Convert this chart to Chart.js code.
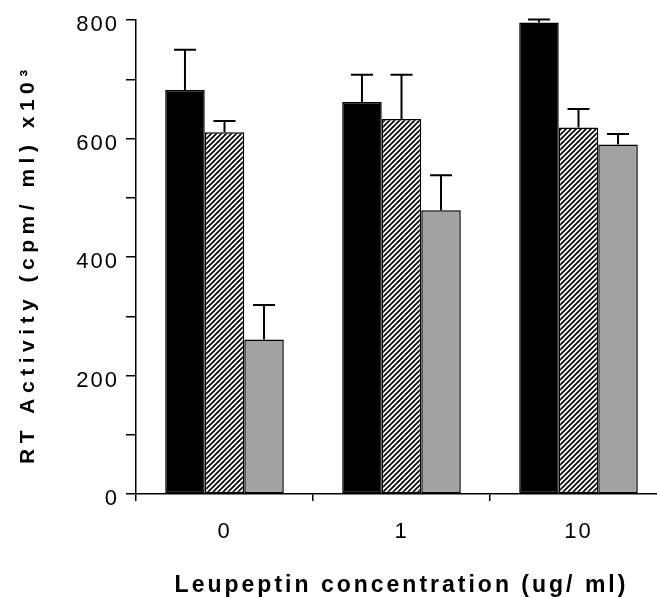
<!DOCTYPE html>
<html>
<head>
<meta charset="utf-8">
<script src="https://cdn.jsdelivr.net/npm/chart.js@4.4.1/dist/chart.umd.min.js"></script>
<style>
  html, body { margin: 0; padding: 0; background: #fff; overflow: hidden; }
  #wrap { width: 657px; height: 597px; overflow: hidden; position: relative; }
  canvas { display: block; }
</style>
</head>
<body>
<div id="wrap"><canvas id="c" width="667" height="597" style="width:667px;height:597px"></canvas></div>
<script>
// ---- data ----
const categories = ['0', '1', '10'];
const blackValues = [682, 662, 796];
const blackErrors = [68, 46, 5];
const hatchValues = [611, 633, 619];
const hatchErrors = [19, 75, 31];
const grayValues = [261, 479, 590];
const grayErrors = [58, 59, 18];
const yTickLabels = [0, 200, 400, 600, 800];
const xTitle = 'Leupeptin concentration (ug/ ml)';
const yTitle = 'RT Activity (cpm/ ml) x10\u00B3';

// ---- hatch pattern ----
function makeHatch() {
  const s = 5;
  const t = document.createElement('canvas');
  t.width = s; t.height = s;
  const g = t.getContext('2d');
  g.fillStyle = '#fff';
  g.fillRect(0, 0, s, s);
  g.strokeStyle = '#000';
  g.lineWidth = 1.7;
  g.beginPath();
  g.moveTo(0, s); g.lineTo(s, 0);
  g.moveTo(-1, 1); g.lineTo(1, -1);
  g.moveTo(s - 1, s + 1); g.lineTo(s + 1, s - 1);
  g.stroke();
  return g.createPattern(t, 'repeat');
}

const errorSets = [blackErrors, hatchErrors, grayErrors];

const errorBars = {
  id: 'errorBars',
  afterDatasetsDraw(chart) {
    const ctx = chart.ctx;
    const y = chart.scales.y;
    ctx.save();
    ctx.strokeStyle = '#000';
    ctx.lineWidth = 2;
    chart.data.datasets.forEach((ds, i) => {
      const meta = chart.getDatasetMeta(i);
      meta.data.forEach((bar, j) => {
        const top = y.getPixelForValue(ds.data[j] + errorSets[i][j]);
        ctx.beginPath();
        ctx.moveTo(bar.x, bar.y);
        ctx.lineTo(bar.x, top);
        ctx.moveTo(bar.x - 11, top);
        ctx.lineTo(bar.x + 11, top);
        ctx.stroke();
      });
    });
    ctx.restore();
  }
};

function patchTitle(scale, sp, dx, dy) {
  if (scale._titlePatched) return;
  const orig = scale.drawTitle;
  scale.drawTitle = function () {
    const g = this.ctx;
    g.save();
    g.letterSpacing = sp;
    g.translate(dx, dy);
    orig.call(this);
    g.restore();
    g.letterSpacing = '2px';
  };
  scale._titlePatched = true;
}

const spacing = {
  id: 'spacing',
  beforeInit(c) { c.ctx.letterSpacing = '2px'; },
  beforeLayout(c) { c.ctx.letterSpacing = '2px'; },
  beforeDraw(c) {
    c.ctx.letterSpacing = '2px';
    patchTitle(c.scales.y, '5.5px', 0, 7);
    patchTitle(c.scales.x, '3px', 0, 0);
  }
};

const ctx = document.getElementById('c').getContext('2d');
const FONT = "'Liberation Sans', Arial, Helvetica, sans-serif";

new Chart(ctx, {
  type: 'bar',
  data: {
    labels: categories,
    datasets: [
      { data: blackValues, backgroundColor: '#000' },
      { data: hatchValues, backgroundColor: makeHatch() },
      { data: grayValues, backgroundColor: '#a3a3a3' }
    ].map(d => Object.assign(d, {
      borderColor: '#000', borderWidth: 1.5, borderSkipped: false,
      categoryPercentage: 0.67, barPercentage: 1.0
    }))
  },
  options: {
    responsive: false,
    animation: false,
    devicePixelRatio: 1,
    layout: { padding: { top: 18, left: 0, right: 0, bottom: 0 } },
    plugins: { legend: { display: false }, tooltip: { enabled: false } },
    scales: {
      x: {
        afterFit: s => { s.height = 103; },
        grid: { drawOnChartArea: false, offset: true, tickLength: 7, color: '#000', lineWidth: 1.5 },
        border: { color: '#000', width: 1.5 },
        ticks: { color: '#000', padding: 18, font: { family: FONT, size: 22 } },
        title: {
          display: true, text: xTitle, color: '#000',
          font: { family: FONT, size: 23, weight: 'bold', lineHeight: 1.0 },
          padding: { top: 0, bottom: 0 }
        }
      },
      y: {
        min: 0, max: 800,
        afterFit: s => { s.width = 136; },
        afterBuildTicks: s => {
          const t = [];
          for (let v = 0; v <= 800; v += 100) t.push({ value: v });
          s.ticks = t;
        },
        grid: { drawOnChartArea: false, tickLength: 10, color: '#000', lineWidth: 1.5 },
        border: { color: '#000', width: 1.5 },
        ticks: {
          color: '#000', padding: 7, labelOffset: 5, font: { family: FONT, size: 22 },
          callback: v => yTickLabels.includes(v) ? String(v) : ''
        },
        title: {
          display: true, text: yTitle, color: '#000',
          font: { family: FONT, size: 21, weight: 'bold', lineHeight: 1.2 },
          padding: { top: 16, bottom: 0 }
        }
      }
    }
  },
  plugins: [spacing, errorBars]
});
</script>
</body>
</html>
